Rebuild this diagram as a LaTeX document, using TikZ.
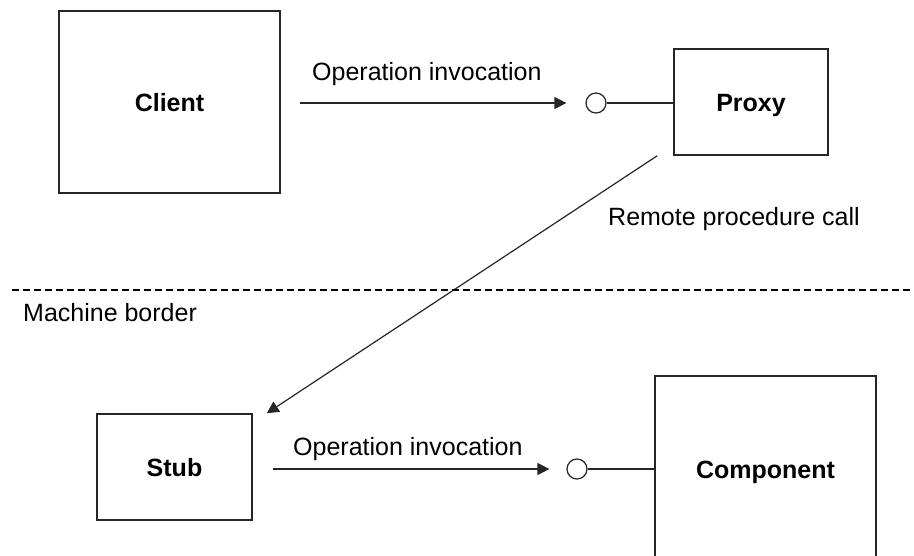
\documentclass[tikz,border=0pt]{standalone}
\usepackage{fontspec}
\setmainfont{Liberation Sans}
\usetikzlibrary{arrows.meta,calc}
\begin{document}
\begin{tikzpicture}[x=1pt,y=-1pt,
  font=\fontsize{25pt}{30pt}\selectfont,
  box/.style={draw=black!85, line width=1.5pt, inner sep=0pt, font=\fontsize{25pt}{30pt}\selectfont\bfseries, text height=18pt, text depth=0pt},
  port/.style={draw=black!85, line width=1.2pt, circle, fill=white, minimum size=20pt, inner sep=0pt},
  conn/.style={draw=black!85, line width=1.2pt},
  arr/.style={conn, -{Triangle[length=12pt,width=12pt]}},
  lbl/.style={inner sep=0pt, anchor=base west}]
\useasboundingbox (0,0) rectangle (914,555);
\clip (0,0) rectangle (914,555);
\fill[white] (0,0) rectangle (914,555);

\node[box, minimum width=221pt, minimum height=182pt] (client) at (169.5,102) {Client};
\node[box, minimum width=154pt, minimum height=106pt] (proxy) at (751,102) {Proxy};
\node[box, minimum width=155pt, minimum height=106pt] (stub) at (174.5,467) {Stub};
\node[box, minimum width=221pt, minimum height=186pt] (comp) at (765.5,469) {Component};

\node[port] (c1) at (596,103) {};
\node[port] (c2) at (577,469) {};

\draw[arr] ([xshift=19pt]client.east |- c1) -- ([xshift=-19pt]c1.west);
\draw[conn] (c1.east) -- (c1.east -| proxy.west);
\draw[arr] ([xshift=20pt]stub.east |- c2) -- ([xshift=-17pt]c2.west);
\draw[conn] (c2.east) -- (c2.east -| comp.west);

\draw[arr] ([xshift=-16pt]proxy.south west) -- ([xshift=14pt]stub.north east);

\coordinate (dl) at (12,290);
\coordinate (dr) at (914,290);
\draw[black, line width=2pt, dash pattern=on 7pt off 4pt] (dl) -- (dr);

\node[lbl] (op1) at (312,80) {Operation invocation};
\node[lbl] (op2) at (293,455) {Operation invocation};
\node[lbl] (rpc) at (608,225) {Remote procedure call};
\node[lbl] (mb) at (23,321) {Machine border};
\end{tikzpicture}
\end{document}
